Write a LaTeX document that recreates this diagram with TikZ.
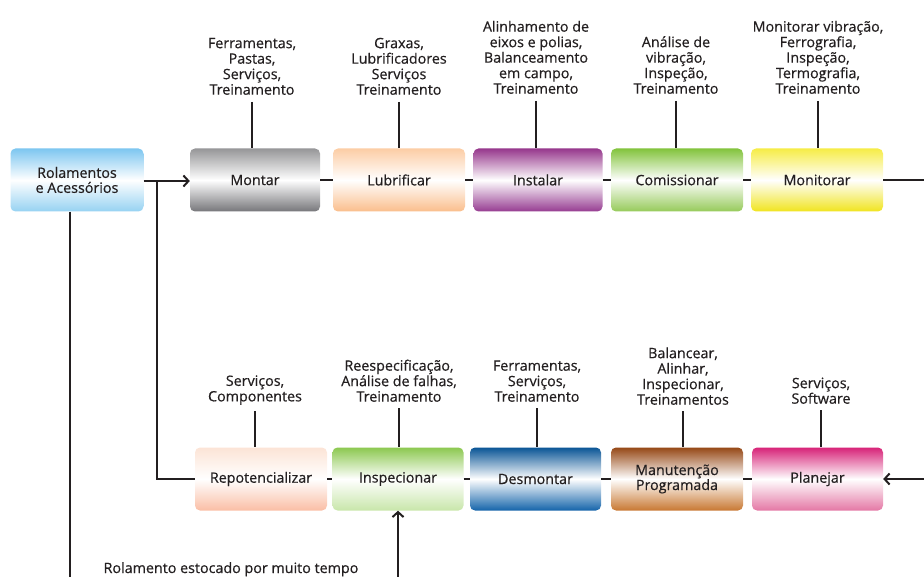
\documentclass[tikz,border=0pt]{standalone}
\usepackage{fontspec}
\setmainfont{Open Sans}[FakeBold=0.5]
\usetikzlibrary{arrows.meta}
\definecolor{txt}{RGB}{35,31,32}
\definecolor{blueT}{RGB}{125,198,240}
\definecolor{blueB}{RGB}{150,210,242}
\definecolor{grayT}{RGB}{150,150,152}
\definecolor{grayB}{RGB}{118,118,122}
\definecolor{peachT}{RGB}{252,205,165}
\definecolor{peachB}{RGB}{250,190,140}
\definecolor{purT}{RGB}{150,55,140}
\definecolor{purB}{RGB}{150,60,145}
\definecolor{grnT}{RGB}{130,195,60}
\definecolor{grnB}{RGB}{150,202,90}
\definecolor{yelT}{RGB}{246,236,70}
\definecolor{yelB}{RGB}{240,228,30}
\definecolor{salT}{RGB}{252,228,214}
\definecolor{salB}{RGB}{250,190,165}
\definecolor{lgrT}{RGB}{140,200,80}
\definecolor{lgrB}{RGB}{200,230,170}
\definecolor{dblT}{RGB}{10,85,150}
\definecolor{dblB}{RGB}{20,100,170}
\definecolor{brT}{RGB}{150,72,22}
\definecolor{brB}{RGB}{200,120,50}
\definecolor{pkT}{RGB}{215,35,120}
\definecolor{pkB}{RGB}{228,120,165}
\begin{document}
\begin{tikzpicture}[x=1pt,y=-1pt,
  box/.style 2 args={rounded corners=5pt, minimum width=131pt, minimum height=63pt,
    inner sep=0pt, align=center, font=\fontsize{14.3}{15}\selectfont, text=txt,
    top color=#1, bottom color=#2, middle color=white},
  lab/.style={align=center, inner sep=0pt, anchor=south, font=\fontsize{14.3}{15.5}\selectfont, text=txt},
  conn/.style={line width=2pt, draw=txt},
  arr/.style={conn, -{Straight Barb[length=5pt,width=11pt,line width=2pt]}}
]
\useasboundingbox (0,0) rectangle (924,577);

% row 1 boxes
\node[box={blueT}{blueB}, minimum width=133pt] (ra) at (77,180) {Rolamentos\\e Acessórios};
\node[box={grayT}{grayB}, minimum width=130pt] (mo) at (255,180) {Montar};
\node[box={peachT}{peachB}, minimum width=132pt] (lu) at (399,180) {Lubrificar};
\node[box={purT}{purB}, minimum width=129pt] (in) at (538,180) {Instalar};
\node[box={grnT}{grnB}, minimum width=132pt] (co) at (677,180) {Comissionar};
\node[box={yelT}{yelB}, minimum width=132pt] (mn) at (817,180) {Monitorar};

% row 2 boxes
\node[box={salT}{salB}, minimum width=132pt] (re) at (261,479) {Repotencializar};
\node[box={lgrT}{lgrB}, minimum width=131pt] (is) at (398,479) {Inspecionar};
\node[box={dblT}{dblB}, minimum width=131pt] (de) at (535.5,479) {Desmontar};
\node[box={brT}{brB}, minimum width=132pt] (ma) at (677,479) {Manutenção\\Programada};
\node[box={pkT}{pkB}, minimum width=131pt] (pl) at (817.5,479) {Planejar};

% top labels
\node[lab] (l1) at (252,95) {Ferramentas,\\Pastas,\\Serviços,\\Treinamento};
\node[lab] (l2) at (399,95) {Graxas,\\Lubrificadores\\Serviços\\Treinamento};
\node[lab] (l3) at (536,94) {Alinhamento de\\eixos e polias,\\Balanceamento\\em campo,\\Treinamento};
\node[lab] (l4) at (676,94) {Análise de\\vibração,\\Inspeção,\\Treinamento};
\node[lab] (l5) at (818,94) {Monitorar vibração,\\Ferrografia,\\Inspeção,\\Termografia,\\Treinamento};

% bottom row labels
\node[lab] (k1) at (255,405) {Serviços,\\Componentes};
\node[lab] (k2) at (399,402) {Reespecificação,\\Análise de falhas,\\Treinamento};
\node[lab] (k3) at (537,402) {Ferramentas,\\Serviços,\\Treinamento};
\node[lab] (k4) at (683,405) {Balancear,\\Alinhar,\\Inspecionar,\\Treinamentos};
\node[lab] (k5) at (821,404) {Serviços,\\Software};

\node[lab, anchor=base] (st) at (231,573) {Rolamento estocado por muito tempo};

% label connectors
\foreach \l/\b in {l1/mo,l2/lu,l3/in,l4/co,l5/mn}
  \draw[conn] ([yshift=-7pt]\l.south) -- (\l.south |- \b.north);
\foreach \l/\b in {k1/re,k2/is,k3/de,k4/ma,k5/pl}
  \draw[conn] ([yshift=-6pt]\l.south) -- (\l.south |- \b.north);

% chain connectors
\draw[conn] (mo.east) -- (lu.west);
\draw[conn] (lu.east) -- (in.west);
\draw[conn] (in.east) -- (co.west);
\draw[conn] (co.east) -- (mn.west);
\draw[conn] (re.east) -- (is.west);
\draw[conn] (is.east) -- (de.west);
\draw[conn] (de.east) -- (ma.west);
\draw[conn] (ma.east) -- (pl.west);

% main arrows
\coordinate (j) at (157,181);
\draw[arr] (ra.east |- j) -- (mo.west |- j);
\draw[conn] (j) -- (j |- re.west) -- (re.west);
\coordinate (bl) at (70,578);
\draw[conn] (ra.south -| bl) -- (bl);
\coordinate (mr) at (925,180);
\draw[conn] (mn.east |- mr) -- (mr);
\coordinate (pr) at (925,479);
\draw[arr] (pr) -- (pl.east |- pr);
\coordinate (ib) at (398,578);
\draw[arr] (ib) -- (is.south);
\end{tikzpicture}
\end{document}
